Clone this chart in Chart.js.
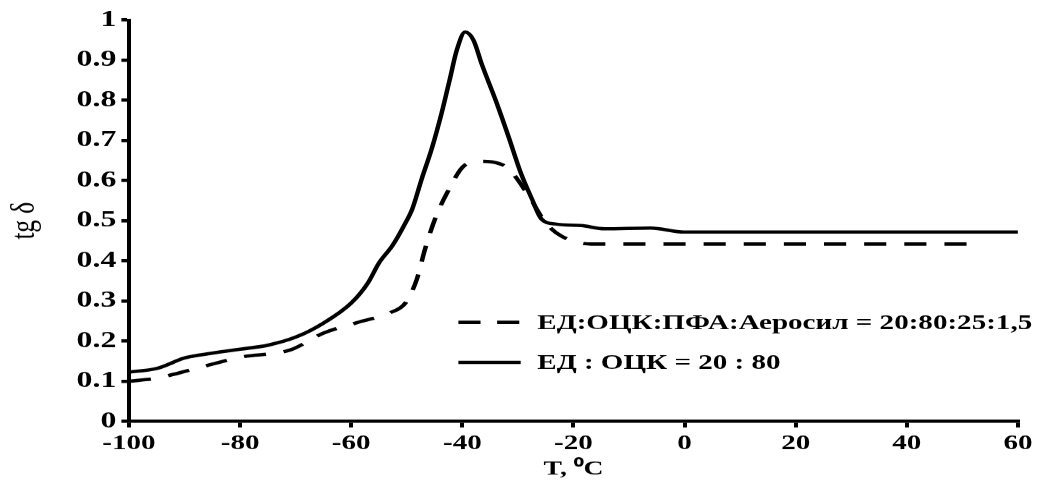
<!DOCTYPE html>
<html>
<head>
<meta charset="utf-8">
<script src="https://cdn.jsdelivr.net/npm/chart.js@4.4.1/dist/chart.umd.min.js"></script>
<style>
  html, body { margin: 0; padding: 0; background: #fff; overflow: hidden; }
  /* the original figure is stretched sideways: draw narrow, show wide */
  #wrap { width: 750px; height: 481px; }
  #tgChart { width: 1038px !important; height: 481px !important; }
</style>
</head>
<body>
<div id="wrap"><canvas id="tgChart"></canvas></div>
<script>
// temperatures (°C) and tg δ values
const tSolid = [-100, -95, -90, -87, -80, -75, -70, -65, -60, -57, -55, -52.5, -50.5, -49, -47.3, -45.5, -43.7, -42.3, -41, -39.5, -38, -36.5, -34, -31.7, -29.5, -27.5, -25.8, -23.3, -18.6, -14.4, -6.1, -0.1, 10, 20, 30, 40, 50, 60];
const solidVals = [0.123, 0.132, 0.158, 0.166, 0.180, 0.190, 0.210, 0.245, 0.295, 0.345, 0.395, 0.440, 0.488, 0.530, 0.605, 0.680, 0.770, 0.850, 0.925, 0.970, 0.950, 0.890, 0.800, 0.710, 0.620, 0.555, 0.505, 0.492, 0.488, 0.480, 0.482, 0.472, 0.472, 0.472, 0.472, 0.472, 0.472, 0.472];

const tDashed = [-100, -95, -89, -80, -71, -65, -59, -53, -50.2, -48.2, -46.7, -44.9, -42.8, -39.5, -36.5, -33.5, -31.7, -28.1, -25, -22.2, -16.8, -10, 0, 10, 20, 30, 40, 52];
const dashedVals = [0.100, 0.108, 0.128, 0.160, 0.178, 0.220, 0.246, 0.271, 0.296, 0.354, 0.430, 0.505, 0.568, 0.639, 0.648, 0.643, 0.630, 0.563, 0.495, 0.462, 0.442, 0.442, 0.442, 0.442, 0.442, 0.442, 0.442, 0.442];

const seriesLabels = ['ЕД:ОЦК:ПФА:Аеросил = 20:80:25:1,5', 'ЕД : ОЦК = 20 : 80'];

const FONT = '"Liberation Serif", "Times New Roman", serif';
const STRETCH = 1038 / 750;

function toPoints(xs, ys) {
    return xs.map((x, i) => ({ x: x, y: ys[i] }));
}

// legend drawn inside the plot, lower right
const innerLegend = {
    id: 'innerLegend',
    afterDraw(chart) {
        const ctx = chart.ctx;
        const area = chart.chartArea;
        const x0 = area.left + 238;
        const rows = [area.top + 302, area.top + 342];
        ctx.save();
        chart.data.datasets.forEach((ds, i) => {
            const y = rows[i];
            ctx.beginPath();
            ctx.setLineDash(ds.borderDash && ds.borderDash.length ? [16, 12] : []);
            ctx.lineWidth = 3.3;
            ctx.strokeStyle = '#000';
            ctx.moveTo(x0, y);
            ctx.lineTo(x0 + 45, y);
            ctx.stroke();
            ctx.setLineDash([]);
            ctx.fillStyle = '#000';
            ctx.font = 'bold 21px ' + FONT;
            ctx.textBaseline = 'middle';
            ctx.fillText(ds.label, x0 + 57, y + 1);
        });
        ctx.restore();
    }
};

const ctx = document.getElementById('tgChart').getContext('2d');
const tgChart = new Chart(ctx, {
    type: 'line',
    data: {
        datasets: [{
            label: seriesLabels[0],
            data: toPoints(tDashed, dashedVals),
            borderColor: '#000',
            borderWidth: 3.3,
            borderDash: [16, 13],
            pointRadius: 0,
            fill: false,
            cubicInterpolationMode: 'monotone'
        }, {
            label: seriesLabels[1],
            data: toPoints(tSolid, solidVals),
            borderColor: '#000',
            borderWidth: 3.3,
            pointRadius: 0,
            fill: false,
            cubicInterpolationMode: 'monotone'
        }]
    },
    options: {
        responsive: true,
        maintainAspectRatio: false,
        devicePixelRatio: STRETCH,
        animation: false,
        layout: { padding: { top: 20, right: 11.6, left: 0, bottom: 0 } },
        plugins: {
            legend: { display: false },
            tooltip: { enabled: false }
        },
        scales: {
            x: {
                type: 'linear',
                min: -100,
                max: 60,
                ticks: {
                    stepSize: 20,
                    color: '#000',
                    padding: 4,
                    font: { family: FONT, size: 21, weight: 'bold' }
                },
                grid: { drawOnChartArea: false, drawTicks: true, tickLength: 6, color: '#000', lineWidth: 2.9 },
                border: { color: '#000', width: 3.3 },
                title: {
                    display: true,
                    text: 'T, ⁰C',
                    color: '#000',
                    padding: { top: 0, bottom: 0 },
                    font: { family: FONT, size: 20, weight: 'bold' }
                },
                afterFit(scale) { scale.height = 60; }
            },
            y: {
                min: 0,
                max: 1,
                ticks: {
                    stepSize: 0.1,
                    color: '#000',
                    padding: 3.6,
                    font: { family: FONT, size: 23, weight: 'bold' },
                    callback: v => String(Math.round(v * 10) / 10)
                },
                grid: { drawOnChartArea: false, drawTicks: true, tickLength: 5.5, color: '#000', lineWidth: 3.3 },
                border: { color: '#000', width: 2.9 },
                title: {
                    display: true,
                    text: 'tg δ',
                    color: '#000',
                    padding: { top: 3, bottom: 0 },
                    font: { family: FONT, size: 25 }
                },
                afterFit(scale) { scale.width = 129 / STRETCH; }
            }
        }
    },
    plugins: [innerLegend]
});
</script>
</body>
</html>
